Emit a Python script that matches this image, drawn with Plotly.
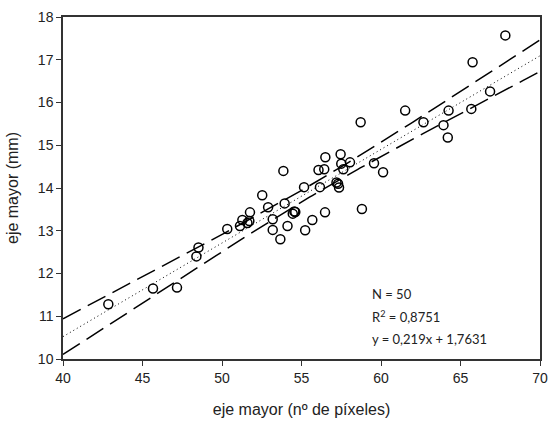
import numpy as np
import plotly.graph_objects as go

# data
x_pix = [42.85, 45.66, 47.17, 48.39, 48.52, 50.33, 51.13, 51.28, 51.72, 51.76,
         52.53, 52.90, 53.19, 53.19, 53.67, 53.86, 53.94, 54.12, 54.45, 54.61,
         55.16, 55.23, 55.68, 56.07, 56.43, 56.50, 56.16, 56.48, 57.20, 57.36,
         57.46, 57.50, 57.63, 58.05, 58.80, 58.72, 59.56, 60.13, 61.52, 62.67,
         63.93, 64.20, 64.25, 65.68, 65.76, 66.86, 67.82, 51.60, 54.55, 57.30]
y_mm = [11.28, 11.65, 11.67, 12.40, 12.61, 13.04, 13.11, 13.25, 13.23, 13.43,
        13.83, 13.55, 13.27, 13.02, 12.80, 14.40, 13.64, 13.11, 13.40, 13.44,
        14.02, 13.01, 13.25, 14.42, 14.44, 14.72, 14.02, 13.43, 14.13, 14.01,
        14.79, 14.57, 14.44, 14.60, 13.51, 15.54, 14.58, 14.37, 15.81, 15.54,
        15.47, 15.18, 15.81, 15.85, 16.94, 16.26, 17.57, 13.18, 13.45, 14.10]
slope = 0.219
intercept = 1.7631
x_range = [40, 70]
y_range = [10, 18]
ann_lines = ["N = 50", "R<sup>2</sup> = 0,8751", "y = 0,219x + 1,7631"]

xa = np.array(x_pix)
ya = np.array(y_mm)
n = len(xa)
xs = np.linspace(x_range[0], x_range[1], 200)
yfit = slope * xs + intercept
resid = ya - (slope * xa + intercept)
s = np.sqrt(np.sum(resid ** 2) / (n - 2))
sxx = np.sum((xa - xa.mean()) ** 2)
tval = 2.0106
half = tval * s * np.sqrt(1.0 / n + (xs - xa.mean()) ** 2 / sxx)

fig = go.Figure()
fig.add_trace(go.Scatter(x=xs, y=yfit + half, mode="lines",
                         line=dict(color="black", width=1.5, dash="20px,8px"),
                         hoverinfo="skip"))
fig.add_trace(go.Scatter(x=xs, y=yfit - half, mode="lines",
                         line=dict(color="black", width=1.5, dash="20px,8px"),
                         hoverinfo="skip"))
fig.add_trace(go.Scatter(x=xs, y=yfit, mode="lines",
                         line=dict(color="black", width=1, dash="1px,3px"),
                         hoverinfo="skip"))
fig.add_trace(go.Scatter(x=x_pix, y=y_mm, mode="markers",
                         marker=dict(symbol="circle-open", size=9,
                                     color="black", line=dict(width=1.5))))

axis_common = dict(showgrid=False, zeroline=False, showline=True, automargin=False,
                   linecolor="#333333", linewidth=1.5, mirror=True,
                   ticks="outside", ticklen=5, tickwidth=1.2, tickcolor="#333333",
                   tickfont=dict(family="Liberation Sans, Arial", size=14, color="#222222"))
fig.update_xaxes(range=x_range, dtick=5, **axis_common,
                 title=dict(text="eje mayor (nº de píxeles)", standoff=19,
                            font=dict(family="Liberation Sans, Arial", size=16, color="#222222")))
fig.update_yaxes(range=y_range, dtick=1, **axis_common,
                 title=dict(text="eje mayor (mm)", standoff=15,
                            font=dict(family="Liberation Sans, Arial", size=16, color="#222222")))

for i, t in enumerate(ann_lines):
    fig.add_annotation(x=0.643, xref="paper", y=0.19 - i * 0.066, yref="paper",
                       text=t, showarrow=False, xanchor="left", yanchor="middle",
                       font=dict(family="Lato, Open Sans", size=13, color="#222222"))

fig.update_layout(width=549, height=421, showlegend=False,
                  plot_bgcolor="white", paper_bgcolor="white",
                  margin=dict(l=63, r=9, t=17, b=62))
fig.write_html("out.html")
